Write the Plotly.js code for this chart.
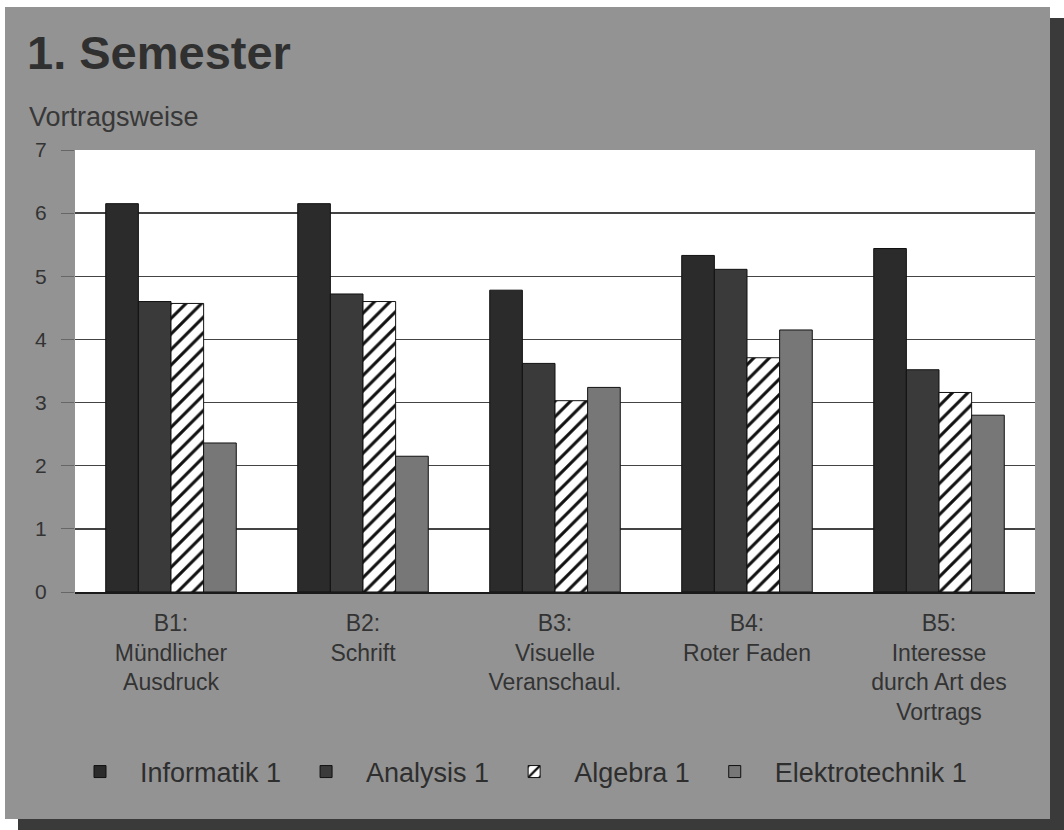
<!DOCTYPE html>
<html>
<head>
<meta charset="utf-8">
<script src="https://cdn.plot.ly/plotly-3.0.1.min.js"></script>
<style>html,body{margin:0;padding:0;background:#fff;}#chart{width:1064px;height:830px;}</style>
</head>
<body>
<div id="chart"></div>
<script>
// Categories (x tick labels)
var categories = [
  'B1:<br>Mündlicher<br>Ausdruck',
  'B2:<br>Schrift',
  'B3:<br>Visuelle<br>Veranschaul.',
  'B4:<br>Roter Faden',
  'B5:<br>Interesse<br>durch Art des<br>Vortrags'
];
// Series values
var informatik1 = [6.15, 6.15, 4.78, 5.33, 5.44];
var analysis1 = [4.60, 4.72, 3.62, 5.11, 3.52];
var algebra1 = [4.57, 4.60, 3.03, 3.71, 3.16];
var elektrotechnik1 = [2.36, 2.15, 3.24, 4.15, 2.80];
var seriesNames = ['Informatik 1', 'Analysis 1', 'Algebra 1', 'Elektrotechnik 1'];
var yTicks = [0, 1, 2, 3, 4, 5, 6, 7];

var FONT = 'Liberation Sans, Arial, sans-serif';
var TXT = '#333333';

var lineStyle = {color: '#111111', width: 1};
var traces = [
  {type: 'bar', name: seriesNames[0], x: categories, y: informatik1,
   marker: {color: '#2b2b2b', line: lineStyle}},
  {type: 'bar', name: seriesNames[1], x: categories, y: analysis1,
   marker: {color: '#3a3a3a', line: lineStyle}},
  {type: 'bar', name: seriesNames[2], x: categories, y: algebra1,
   marker: {color: '#ffffff', line: lineStyle,
            pattern: {shape: '/', fgcolor: '#111111', bgcolor: '#ffffff', size: 11, solidity: 0.28}}},
  {type: 'bar', name: seriesNames[3], x: categories, y: elektrotechnik1,
   marker: {color: '#777777', line: lineStyle}}
];

var layout = {
  width: 1064, height: 830,
  margin: {l: 75, r: 29, t: 150, b: 238},
  paper_bgcolor: '#ffffff',
  plot_bgcolor: 'rgba(0,0,0,0)',
  barmode: 'group',
  bargap: 0.32,
  bargroupgap: 0,
  showlegend: true,
  font: {family: FONT, color: TXT},
  title: {
    text: '<b>1. Semester</b>',
    font: {family: FONT, size: 47, color: '#303030'},
    xref: 'container', yref: 'container',
    x: 27 / 1064, xanchor: 'left',
    y: 1 - 53 / 830, yanchor: 'middle'
  },
  annotations: [{
    text: 'Vortragsweise',
    xref: 'paper', yref: 'paper',
    x: (27 - 75) / 960, xanchor: 'left',
    y: (592 - 117) / 442, yanchor: 'middle',
    showarrow: false,
    font: {family: FONT, size: 27, color: '#383838'}
  }],
  xaxis: {
    type: 'category',
    showgrid: false,
    showline: true, linecolor: '#1a1a1a', linewidth: 2,
    ticks: '',
    tickfont: {family: FONT, size: 23, color: TXT},
    ticklabelstandoff: 9,
    zeroline: false
  },
  yaxis: {
    range: [0, 7],
    tickvals: yTicks,
    ticktext: yTicks.map(String),
    showgrid: true, gridcolor: '#444444', gridwidth: 1.5,
    zeroline: false,
    showline: false,
    ticks: 'outside', ticklen: 13, tickcolor: '#666666', tickwidth: 1,
    tickfont: {family: FONT, size: 21, color: TXT},
    ticklabelstandoff: 10
  },
  legend: {
    orientation: 'h',
    xref: 'paper', yref: 'paper',
    x: (516 - 75) / 960, xanchor: 'center',
    y: (592 - 772) / 442, yanchor: 'middle',
    bgcolor: 'rgba(0,0,0,0)',
    font: {family: FONT, size: 27, color: '#2e2e2e'},
    itemwidth: 70,
    traceorder: 'normal'
  },
  shapes: [
    // drop shadow
    {type: 'rect', xref: 'paper', yref: 'paper', layer: 'below',
     x0: (18 - 75) / 960, x1: (1064 - 75) / 960,
     y0: (592 - 830) / 442, y1: (592 - 18) / 442,
     fillcolor: '#3a3a3a', line: {width: 0}},
    // grey panel
    {type: 'rect', xref: 'paper', yref: 'paper', layer: 'below',
     x0: (5 - 75) / 960, x1: (1050 - 75) / 960,
     y0: (592 - 819) / 442, y1: (592 - 7) / 442,
     fillcolor: '#939393', line: {width: 0}},
    // white plot area
    {type: 'rect', xref: 'paper', yref: 'paper', layer: 'below',
     x0: 0, x1: 1, y0: 0, y1: 1,
     fillcolor: '#ffffff', line: {width: 0}}
  ]
};

Plotly.newPlot('chart', traces, layout, {displayModeBar: false, staticPlot: true});
</script>
</body>
</html>
